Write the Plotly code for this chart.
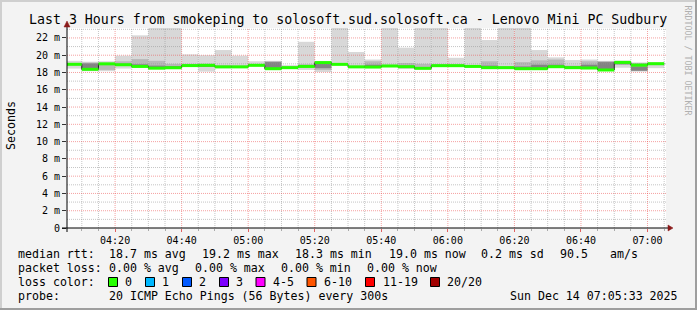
import plotly.graph_objects as go
import pandas as pd

# ---------------- data ----------------
bar_start = pd.date_range("2025-12-14 04:05:00", periods=36, freq="5min")
rtt_median = [18.95, 18.37, 19.00, 18.90, 18.70, 18.50, 18.55, 18.80, 18.83, 18.65,
              18.65, 18.83, 18.44, 18.56, 18.70, 19.15, 18.94, 18.65, 18.63, 18.75,
              18.67, 18.48, 18.79, 18.79, 18.70, 18.56, 18.56, 18.44, 18.44, 18.67,
              18.56, 18.52, 18.29, 19.17, 18.85, 19.02]
rtt_min = [18.45, 18.15, 18.15, 18.45, 18.55, 18.45, 18.50, 18.70, 18.10, 18.50,
           18.60, 18.70, 18.35, 18.50, 18.30, 18.05, 18.85, 18.60, 18.60, 18.70,
           18.40, 18.45, 18.75, 18.75, 18.65, 18.50, 18.50, 18.40, 18.35, 18.60,
           18.50, 18.45, 18.28, 18.55, 18.10, 18.50]
rtt_max = [19.35, 19.25, 19.30, 19.95, 22.30, 24.00, 24.00, 20.10, 20.00, 20.60,
           19.95, 19.30, 19.35, 18.85, 21.55, 19.20, 24.00, 20.37, 19.50, 24.00,
           20.87, 24.00, 24.00, 19.70, 24.00, 21.76, 24.00, 24.00, 20.60, 19.75,
           19.44, 19.50, 19.35, 19.37, 19.17, 19.17]
rtt_q1 = [18.80, 18.25, 18.30, 18.75, 18.65, 18.50, 18.55, 18.75, 18.70, 18.60,
          18.63, 18.78, 18.40, 18.52, 18.60, 18.30, 18.90, 18.62, 18.62, 18.72,
          18.60, 18.47, 18.77, 18.77, 18.68, 18.53, 18.53, 18.42, 18.40, 18.63,
          18.53, 18.50, 18.29, 18.90, 18.20, 18.85]
rtt_q3 = [19.10, 19.15, 19.10, 19.30, 19.55, 19.35, 19.00, 19.00, 19.00, 18.85,
          18.80, 18.95, 19.30, 18.70, 18.95, 19.15, 19.05, 18.80, 19.30, 18.90,
          19.10, 19.00, 18.95, 18.95, 18.85, 19.30, 18.75, 19.20, 19.40, 19.50,
          18.80, 19.30, 19.30, 19.25, 19.10, 19.10]
rtt_core_lo = [18.90, 18.30, 18.95, 18.85, 18.65, 18.50, 18.55, 18.75, 18.75, 18.60,
               18.63, 18.80, 18.40, 18.53, 18.65, 18.50, 18.90, 18.62, 18.62, 18.72,
               18.62, 18.47, 18.77, 18.77, 18.68, 18.53, 18.53, 18.42, 18.40, 18.63,
               18.53, 18.50, 18.29, 18.95, 18.20, 18.95]
rtt_core_hi = [19.00, 19.05, 19.05, 19.00, 18.95, 18.80, 18.70, 18.85, 18.95, 18.70,
               18.70, 18.90, 19.20, 18.62, 18.80, 19.10, 18.98, 18.70, 18.90, 18.80,
               18.80, 18.60, 18.85, 18.85, 18.75, 18.80, 18.62, 18.70, 18.90, 18.90,
               18.65, 18.90, 19.20, 19.20, 18.70, 19.08]

y_tick_vals = [0, 2, 4, 6, 8, 10, 12, 14, 16, 18, 20, 22]
y_tick_text = ["0", "2 m", "4 m", "6 m", "8 m", "10 m", "12 m", "14 m", "16 m",
               "18 m", "20 m", "22 m"]
x_tick_vals = ["2025-12-14 04:20", "2025-12-14 04:40", "2025-12-14 05:00",
               "2025-12-14 05:20", "2025-12-14 05:40", "2025-12-14 06:00",
               "2025-12-14 06:20", "2025-12-14 06:40", "2025-12-14 07:00"]
x_tick_text = ["04:20", "04:40", "05:00", "05:20", "05:40", "06:00", "06:20",
               "06:40", "07:00"]

title_text = "Last 3 Hours from smokeping to solosoft.sud.solosoft.ca - Lenovo Mini PC Sudbury"
row_rtt = ["median rtt:", "18.7 ms avg", "19.2 ms max", "18.3 ms min",
           "19.0 ms now", "0.2 ms sd", "90.5", "am/s"]
row_loss = ["packet loss:", "0.00 % avg", "0.00 % max", "0.00 % min", "0.00 % now"]
loss_labels = ["0", "1", "2", "3", "4-5", "6-10", "11-19", "20/20"]
probe_text = "20 ICMP Echo Pings (56 Bytes) every 300s"
date_text = "Sun Dec 14 07:05:33 2025"

# ---------------- style / layout constants ----------------
W, H = 697, 310
PL, PR, PT, PB = 67, 666, 28, 228
Y_TOP = 23.15
X0, X1 = "2025-12-14 04:05:33", "2025-12-14 07:05:33"
MONO = "DejaVu Sans Mono"
loss_colors = ["#26ff00", "#00b8ff", "#0059ff", "#7e00ff", "#ff00ff",
               "#ff5500", "#ff0000", "#a10000"]
FIVE_MIN = pd.Timedelta(minutes=5)


def fx(px):
    return (px - PL) / (PR - PL)


def fy(py):
    return (PB - py) / (PB - PT)


fig = go.Figure()

# smoke bands
def band(lo, hi, color):
    fig.add_trace(go.Bar(
        x=bar_start, y=[h - l for l, h in zip(lo, hi)], base=lo,
        width=300000, offset=0, marker=dict(color=color, line=dict(width=0)),
        hoverinfo="skip", showlegend=False))

band(rtt_min, rtt_max, "#d8d8d8")
band(rtt_q1, rtt_q3, "#b8b8b8")
band(rtt_core_lo, rtt_core_hi, "#838383")

# grid lines (drawn over the smoke, like rrdtool)
def hlines(vals, color):
    xs, ys = [], []
    for v in vals:
        xs += [X0, X1, None]
        ys += [v, v, None]
    fig.add_trace(go.Scatter(x=xs, y=ys, mode="lines",
                             line=dict(color=color, width=1, dash="1px,1px"),
                             hoverinfo="skip", showlegend=False))


def vlines(vals, color):
    xs, ys = [], []
    for v in vals:
        xs += [v, v, None]
        ys += [0, Y_TOP, None]
    fig.add_trace(go.Scatter(x=xs, y=ys, mode="lines",
                             line=dict(color=color, width=1, dash="1px,1px"),
                             hoverinfo="skip", showlegend=False))


minor_t = [t for t in pd.date_range("2025-12-14 04:10", "2025-12-14 07:05", freq="5min")
           if t.minute % 20 != 0]
major_t = [t for t in pd.date_range("2025-12-14 04:10", "2025-12-14 07:05", freq="5min")
           if t.minute % 20 == 0]
hlines([v for v in range(1, 24) if v % 2 == 1], "rgba(150,150,150,0.55)")
vlines(minor_t, "rgba(150,150,150,0.55)")
hlines(y_tick_vals[1:], "rgba(235,70,70,0.5)")
vlines(major_t, "rgba(235,70,70,0.5)")

# median: dark step connectors + green horizontal segments
step_x = list(bar_start) + [bar_start[-1] + FIVE_MIN]
step_y = list(rtt_median) + [rtt_median[-1]]
fig.add_trace(go.Scatter(x=step_x, y=step_y, mode="lines", line_shape="hv",
                         line=dict(color="#202020", width=1),
                         hoverinfo="skip", showlegend=False))
gx, gy = [], []
for t, m in zip(bar_start, rtt_median):
    gx += [t, t + FIVE_MIN, None]
    gy += [m, m, None]
fig.add_trace(go.Scatter(x=gx, y=gy, mode="lines",
                         line=dict(color=loss_colors[0], width=3),
                         hoverinfo="skip", showlegend=False))

# ---------------- axes ----------------
fig.update_xaxes(range=[X0, X1], tickvals=x_tick_vals, ticktext=x_tick_text,
                 ticks="outside", ticklen=3, tickcolor="#e06060",
                 tickfont=dict(family=MONO, size=10, color="#000"),
                 showgrid=False, zeroline=False, showline=False,
                 minor=dict(ticks="outside", ticklen=2, tickcolor="#aaaaaa",
                            dtick=300000, tick0="2025-12-14 04:10", showgrid=False))
fig.update_yaxes(range=[0, Y_TOP], tickvals=y_tick_vals, ticktext=y_tick_text,
                 ticks="outside", ticklen=4, tickcolor="#333",
                 tickfont=dict(family=MONO, size=10, color="#000"),
                 showgrid=False, zeroline=False, showline=False)

shapes = []
# axis lines
shapes.append(dict(type="line", xref="paper", yref="paper", x0=fx(62), x1=fx(669),
                   y0=0, y1=0, line=dict(color="#000", width=1), layer="above"))
shapes.append(dict(type="line", xref="paper", yref="paper", x0=0, x1=0,
                   y0=fy(232), y1=fy(25), line=dict(color="#000", width=1), layer="above"))
# arrowheads
shapes.append(dict(type="path", xref="paper", yref="paper",
                   path=f"M {fx(668)} {fy(225)} L {fx(673)} {fy(228)} L {fx(668)} {fy(231)} Z",
                   fillcolor="#8b1a1a", line=dict(color="#8b1a1a", width=0.5), layer="above"))
shapes.append(dict(type="path", xref="paper", yref="paper",
                   path=f"M {fx(64)} {fy(27)} L {fx(67)} {fy(21)} L {fx(70)} {fy(27)} Z",
                   fillcolor="#8b1a1a", line=dict(color="#8b1a1a", width=0.5), layer="above"))
# 3D frame of the canvas
shapes.append(dict(type="rect", xref="paper", yref="paper", x0=fx(0), x1=fx(W),
                   y0=fy(0), y1=fy(2), fillcolor="#cfcfcf", line=dict(width=0), layer="above"))
shapes.append(dict(type="rect", xref="paper", yref="paper", x0=fx(0), x1=fx(2),
                   y0=fy(0), y1=fy(H), fillcolor="#cfcfcf", line=dict(width=0), layer="above"))
shapes.append(dict(type="rect", xref="paper", yref="paper", x0=fx(0), x1=fx(W),
                   y0=fy(H - 2), y1=fy(H), fillcolor="#9e9e9e", line=dict(width=0), layer="above"))
shapes.append(dict(type="rect", xref="paper", yref="paper", x0=fx(W - 2), x1=fx(W),
                   y0=fy(0), y1=fy(H), fillcolor="#9e9e9e", line=dict(width=0), layer="above"))

ann = []


def text(s, px, py, size=11.6, anchor="left", color="#000", angle=0):
    ann.append(dict(text=s, x=fx(px), y=fy(py), xref="paper", yref="paper",
                    xanchor=anchor, yanchor="middle", showarrow=False,
                    textangle=angle,
                    font=dict(family=MONO, size=size, color=color)))


text(title_text, 347.5, 19.5, size=13.25, anchor="center")
text("Seconds", 11, 126, anchor="center", angle=-90)
text("RRDTOOL / TOBI OETIKER", 687.5, 60, size=8.3, anchor="center",
     color="#b0b0b0", angle=90)

rtt_x = [16, 107, 200, 293, 386.5, 479, 558, 607.5]
for s, px in zip(row_rtt, rtt_x):
    text(s, px, 254)
loss_x = [16, 107, 193, 279, 365]
for s, px in zip(row_loss, loss_x):
    text(s, px, 268)
text("loss color:", 16, 282)
box_x = [108.5, 145.5, 182.5, 219.5, 256, 307, 365.5, 430.5]
lab_x = [123, 160, 197, 234, 270.5, 321.5, 380.5, 445]
for lab, col, bx, lx in zip(loss_labels, loss_colors, box_x, lab_x):
    shapes.append(dict(type="rect", xref="paper", yref="paper",
                       x0=fx(bx), x1=fx(bx + 9), y0=fy(286.5), y1=fy(277.5),
                       fillcolor=col, line=dict(color="#000", width=1), layer="above"))
    text(lab, lx, 282)
text("probe:", 16, 296)
text(probe_text, 107, 296)
text(date_text, 680, 296, anchor="right")

fig.update_layout(
    width=W, height=H,
    margin=dict(l=PL, r=W - PR, t=PT, b=H - PB, pad=0),
    paper_bgcolor="#f3f3f3", plot_bgcolor="#ffffff",
    barmode="overlay", showlegend=False,
    shapes=shapes, annotations=ann,
)

fig.write_html("out.html")
